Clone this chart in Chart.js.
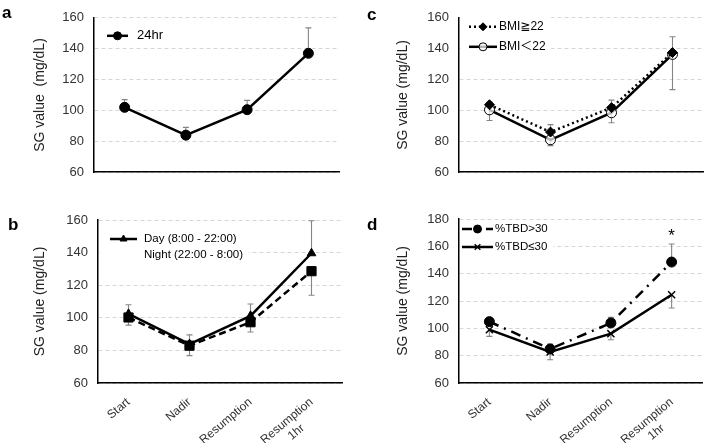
<!DOCTYPE html>
<html>
<head>
<meta charset="utf-8">
<script src="https://cdn.jsdelivr.net/npm/chart.js@4.4.1/dist/chart.umd.min.js"></script>
<style>
  html, body { margin: 0; padding: 0; background: #fff; }
  #wrap { position: relative; width: 709px; height: 443px; overflow: hidden; font-family: 'Liberation Sans', Arial, sans-serif; }
  #wrap canvas { position: absolute; }
  .tag { position: absolute; font-weight: bold; font-size: 17px; line-height: 1; color: #000; }
</style>
</head>
<body>
<div id="wrap">
  <canvas id="panelA" width="354" height="190" style="left:0;top:0"></canvas>
  <canvas id="panelB" width="354" height="253" style="left:0;top:190px"></canvas>
  <canvas id="panelC" width="355" height="190" style="left:354px;top:0"></canvas>
  <canvas id="panelD" width="355" height="253" style="left:354px;top:190px"></canvas>
  <div class="tag" style="left:2px;top:4px">a</div>
  <div class="tag" style="left:8px;top:216px">b</div>
  <div class="tag" style="left:367px;top:6px">c</div>
  <div class="tag" style="left:367px;top:216px">d</div>
</div>
<script>
// time points (x categories)
const timePoints = ['Start', 'Nadir', 'Resumption', ['Resumption', '1hr       ']];

// y ticks
const yTicksAC = [60, 80, 100, 120, 140, 160];
const yTicksD = [60, 80, 100, 120, 140, 160, 180];

// a: whole day
const allDay = [102, 84, 100.5, 137];
const allDayUp = [107, 89, 106.5, 153.5];

// b: day vs night
const daySG = [102.4, 83.9, 101.2, 139.6];
const daySGUp = [108, 89.5, 108.5, 159.5];
const nightSG = [100.2, 82.9, 97.3, 128.6];
const nightSGDown = [95.5, 76.8, 91.3, 113.8];

// c: BMI groups
const bmiHigh = [103.7, 86, 101.8, 137.5];
const bmiHighUp = [105.5, 90.8, 106.7, 147.7];
const bmiLow = [100.4, 81, 98.5, 136.3];
const bmiLowDown = [93.5, 77.2, 92, 113.5];

// d: %TBD groups
const tbdHigh = [104.9, 84.9, 103.9, 148.5];
const tbdHighUp = [106.5, 88.5, 108, 161.7];
const tbdLow = [99, 82.7, 96.1, 124.6];
const tbdLowDown = [94.1, 77, 91.7, 114.9];
const tbdSig = ['', '', '', '*'];

const FONT = "'Liberation Sans', Arial, 'DejaVu Sans', 'Noto Sans CJK JP', sans-serif";
Chart.defaults.font.family = FONT;

// whiskers drawn under the lines, one side per series
const errorBars = {
  id: 'errorBars',
  beforeDatasetsDraw(chart) {
    const { ctx } = chart;
    const y = chart.scales.y;
    ctx.save();
    ctx.strokeStyle = '#858585';
    ctx.lineWidth = 1.1;
    chart.data.datasets.forEach((ds, i) => {
      const meta = chart.getDatasetMeta(i);
      ds.data.forEach((v, j) => {
        const px = meta.data[j].x;
        [ds.errUp, ds.errDown].forEach(arr => {
          if (!arr || arr[j] == null) return;
          const p0 = y.getPixelForValue(v), p1 = y.getPixelForValue(arr[j]);
          ctx.beginPath();
          ctx.moveTo(px, p0); ctx.lineTo(px, p1);
          ctx.moveTo(px - 3, p1); ctx.lineTo(px + 3, p1);
          ctx.stroke();
        });
        if (ds.sig && ds.sig[j]) {
          const tip = ds.errUp ? ds.errUp[j] : v;
          ctx.fillStyle = '#000';
          ctx.font = '17px ' + FONT;
          ctx.textAlign = 'center';
          ctx.textBaseline = 'alphabetic';
          ctx.fillText(ds.sig[j], px, y.getPixelForValue(tip) - 3);
        }
      });
    });
    ctx.restore();
  }
};

// Excel-like legend inside the plot
const seriesKey = {
  id: 'seriesKey',
  afterDatasetsDraw(chart, args, o) {
    const { ctx, chartArea } = chart;
    const sets = chart.data.datasets;
    ctx.save();
    ctx.font = o.size + 'px ' + FONT;
    let maxW = 0;
    sets.forEach(ds => { maxW = Math.max(maxW, ctx.measureText(ds.label).width); });
    const bx = chartArea.left + 1.5;
    const by = chartArea.top + o.y - o.rowH / 2;
    ctx.fillStyle = '#fff';
    ctx.fillRect(bx, by, o.x + o.len + o.gap + maxW + 4, o.rowH * sets.length);
    ctx.textBaseline = 'middle';
    sets.forEach((ds, i) => {
      const x0 = chartArea.left + o.x;
      const y0 = chartArea.top + o.y + i * o.rowH;
      if (ds.keySample !== false) {
        ctx.strokeStyle = ds.borderColor;
        ctx.lineWidth = ds.borderWidth;
        ctx.setLineDash(ds.borderDash || []);
        ctx.beginPath(); ctx.moveTo(x0, y0); ctx.lineTo(x0 + o.len, y0); ctx.stroke();
        ctx.setLineDash([]);
        ctx.fillStyle = ds.pointBackgroundColor;
        ctx.strokeStyle = ds.pointBorderColor;
        ctx.lineWidth = ds.pointBorderWidth;
        Chart.helpers.drawPoint(ctx, {
          pointStyle: ds.pointStyle, radius: ds.pointRadius * 0.8, rotation: 0, borderWidth: ds.pointBorderWidth
        }, x0 + o.len / 2, y0);
      }
      ctx.fillStyle = '#000';
      ctx.textAlign = 'left';
      ctx.fillText(ds.label, x0 + o.len + o.gap, y0);
    });
    ctx.restore();
  }
};

function series(label, data, style, extra) {
  return Object.assign({
    label, data,
    borderColor: '#000',
    borderWidth: 2.5,
    tension: 0,
    pointStyle: 'circle',
    pointRadius: 5,
    pointHoverRadius: 5,
    pointBackgroundColor: '#000',
    pointBorderColor: '#000',
    pointBorderWidth: 1
  }, style, extra);
}

function panel(id, cfg) {
  return new Chart(document.getElementById(id), {
    type: 'line',
    data: { labels: timePoints, datasets: cfg.datasets },
    options: {
      responsive: false,
      animation: false,
      events: [],
      layout: { padding: cfg.pad },
      plugins: {
        legend: { display: false },
        tooltip: { enabled: false },
        seriesKey: cfg.key
      },
      scales: {
        x: {
          offset: true,
          grid: { display: false },
          border: { display: true, color: '#000', width: 1.5 },
          ticks: {
            display: cfg.showX,
            minRotation: 40, maxRotation: 40,
            color: '#333',
            padding: 4,
            font: { size: 12 }
          },
          afterFit: s => { s.height = cfg.xHeight; }
        },
        y: {
          min: cfg.yTicks[0],
          max: cfg.yTicks[cfg.yTicks.length - 1],
          afterBuildTicks: s => { s.ticks = cfg.yTicks.map(v => ({ value: v })); },
          grid: { color: '#d6d6d6', lineWidth: 1, drawTicks: false },
          border: { display: true, color: '#000', width: 1.5, dash: [4, 3] },
          ticks: { color: '#333', padding: 10, font: { size: 13 } },
          title: {
            display: true,
            text: cfg.yTitle,
            color: '#222',
            font: { size: 14 },
            padding: { top: cfg.titlePad, bottom: 0 }
          },
          afterFit: s => { s.width = cfg.yWidth; }
        }
      }
    },
    plugins: [errorBars, seriesKey]
  });
}

panel('panelA', {
  datasets: [series('24hr', allDay, {}, { errUp: allDayUp })],
  pad: { left: 0, top: 12, right: 15, bottom: 14 },
  yWidth: 94, xHeight: 0, showX: false, titlePad: 31.6,
  yTicks: yTicksAC, yTitle: 'SG value  (mg/dL)',
  key: { x: 13, y: 18, len: 21, gap: 9, rowH: 18, size: 13 }
});

panel('panelB', {
  datasets: [
    series('Day (8:00 - 22:00)', daySG, { pointStyle: 'triangle', pointRadius: 5 }, { errUp: daySGUp }),
    series('Night (22:00 - 8:00)', nightSG, { pointStyle: 'rect', pointRadius: 6.5, borderDash: [7, 4] },
      { errDown: nightSGDown, keySample: false })
  ],
  pad: { left: 0, top: 30, right: 12, bottom: 0 },
  yWidth: 98, xHeight: 60, showX: true, titlePad: 31.6,
  yTicks: yTicksAC, yTitle: 'SG value (mg/dL)',
  key: { x: 12, y: 19, len: 27, gap: 7, rowH: 16, size: 11.5 }
});

panel('panelC', {
  datasets: [
    series('BMI≧22', bmiHigh, { pointStyle: 'rectRot', pointRadius: 5, borderDash: [2, 3] }, { errUp: bmiHighUp }),
    series('BMI＜22', bmiLow, { pointStyle: 'circle', pointRadius: 5, pointBackgroundColor: 'rgba(255,255,255,0.7)' },
      { errDown: bmiLowDown })
  ],
  pad: { left: 0, top: 12, right: 5, bottom: 14 },
  yWidth: 105, xHeight: 0, showX: false, titlePad: 40.6,
  yTicks: yTicksAC, yTitle: 'SG value (mg/dL)',
  key: { x: 10, y: 9, len: 28, gap: 2, rowH: 20, size: 12 }
});

panel('panelD', {
  datasets: [
    series('%TBD>30', tbdHigh, { pointStyle: 'circle', pointRadius: 5, borderDash: [10, 6, 2, 6] },
      { errUp: tbdHighUp, sig: tbdSig }),
    series('%TBD≤30', tbdLow, { pointStyle: 'crossRot', pointRadius: 5, pointBorderWidth: 1.5 },
      { errDown: tbdLowDown })
  ],
  pad: { left: 0, top: 29, right: 7, bottom: 0 },
  yWidth: 105, xHeight: 60, showX: true, titlePad: 40.6,
  yTicks: yTicksD, yTitle: 'SG value (mg/dL)',
  key: { x: 3, y: 10, len: 31, gap: 2, rowH: 18, size: 11.5 }
});
</script>
</body>
</html>
